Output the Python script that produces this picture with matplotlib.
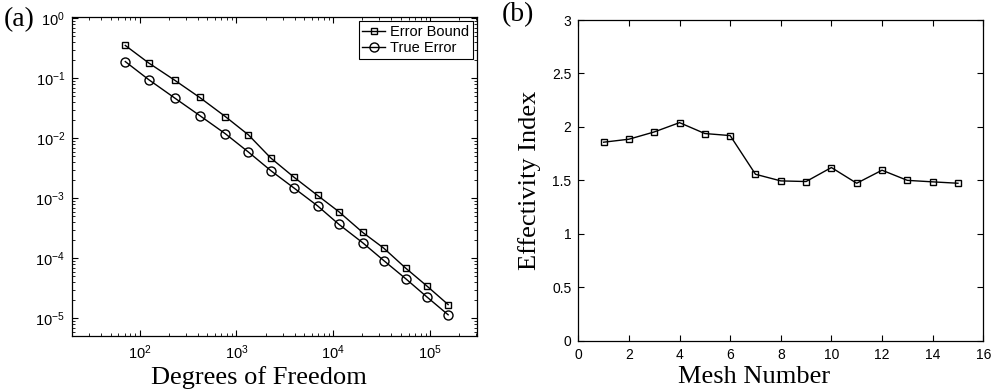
import matplotlib
matplotlib.use("Agg")
import matplotlib.pyplot as plt

# (a) error vs degrees of freedom
dof = [71, 124, 230, 417, 769, 1331, 2264, 3947, 6890, 11430,
       20100, 33300, 56000, 92300, 154000]
error_bound = [0.353, 0.18, 0.093, 0.048, 0.023, 0.0114, 0.0047, 0.00224,
               0.00112, 0.0006, 0.000272, 0.000148, 6.9e-5, 3.5e-5, 1.7e-5]
true_error = [0.19, 0.095, 0.047, 0.024, 0.0119, 0.0059, 0.0029, 0.00148,
              0.00075, 0.00037, 0.000183, 9.2e-5, 4.6e-5, 2.3e-5, 1.15e-5]

# (b) effectivity index per mesh
mesh = list(range(1, 16))
effectivity = [1.857, 1.885, 1.953, 2.04, 1.938, 1.919, 1.557, 1.495,
               1.489, 1.62, 1.473, 1.595, 1.50, 1.486, 1.473]

plt.rcParams["font.family"] = ["Liberation Sans", "DejaVu Sans"]
plt.rcParams["mathtext.fontset"] = "custom"
plt.rcParams["mathtext.rm"] = "Liberation Sans"
plt.rcParams["mathtext.it"] = "Liberation Sans:italic"
plt.rcParams["mathtext.bf"] = "Liberation Sans:bold"
serif = ["Liberation Serif", "DejaVu Serif"]

fig = plt.figure(figsize=(9.95, 3.92), dpi=100)

ax1 = fig.add_axes([0.0724, 0.1429, 0.407, 0.8137])
ax1.loglog(dof, error_bound, "k-s", mfc="none", ms=5, lw=1, mew=1,
           label="Error Bound")
ax1.loglog(dof, true_error, "k-o", mfc="none", ms=6.5, lw=1, mew=1,
           label="True Error")
ax1.set_xlim(20, 3.06e5)
ax1.set_ylim(5.1e-6, 1.05)
ax1.tick_params(which="both", direction="in", top=True, right=True,
                labelsize=10.5, pad=5)
ax1.tick_params(which="major", length=4)
ax1.tick_params(which="minor", length=2)
ax1.set_xlabel("Degrees of Freedom", family=serif, fontsize=19, labelpad=3,
               x=0.462)
leg = ax1.legend(loc="upper right", fontsize=10.5, handlelength=1.6,
                 handletextpad=0.3, borderpad=0.25, labelspacing=0.15,
                 fancybox=False, framealpha=1, borderaxespad=0.3)
leg.get_frame().set_edgecolor("k")
leg.get_frame().set_linewidth(0.8)
fig.text(0.004, 0.949, "(a)", family=serif, fontsize=20, va="center")

ax2 = fig.add_axes([0.5812, 0.1309, 0.407, 0.818])
ax2.plot(mesh, effectivity, "k-s", mfc="none", ms=5, lw=1, mew=1)
ax2.set_xlim(0, 16)
ax2.set_ylim(0, 3)
ax2.set_xticks(range(0, 17, 2))
ax2.set_yticks([0, 0.5, 1, 1.5, 2, 2.5, 3])
ax2.set_yticklabels(["0", "0.5", "1", "1.5", "2", "2.5", "3"])
ax2.tick_params(direction="in", top=True, right=True, length=4,
                labelsize=10, pad=5)
ax2.set_xlabel("Mesh Number", family=serif, fontsize=19, labelpad=3,
               x=0.434)
ax2.set_ylabel("Effectivity Index", family=serif, fontsize=19, labelpad=8)
fig.text(0.504, 0.962, "(b)", family=serif, fontsize=20, va="center")

for ax in (ax1, ax2):
    for s in ax.spines.values():
        s.set_linewidth(0.9)

fig.savefig("out.png", dpi=100)
plt.close(fig)
